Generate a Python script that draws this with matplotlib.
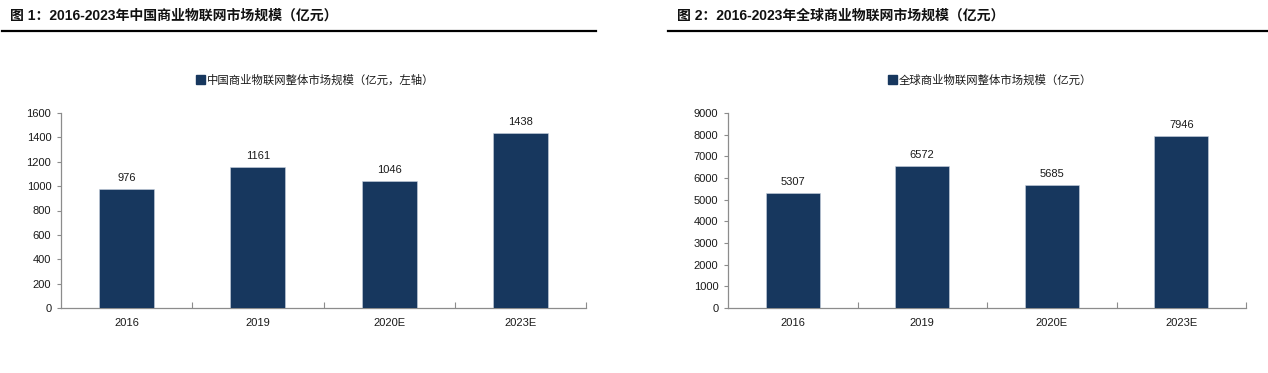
import matplotlib
matplotlib.use("Agg")
import matplotlib.pyplot as plt
from matplotlib.lines import Line2D
from matplotlib.patches import Patch

categories = ["2016", "2019", "2020E", "2023E"]
china_values = [976, 1161, 1046, 1438]
global_values = [5307, 6572, 5685, 7946]

title_left = "图 1：2016-2023年中国商业物联网市场规模（亿元）"
title_right = "图 2：2016-2023年全球商业物联网市场规模（亿元）"
legend_left = "中国商业物联网整体市场规模（亿元，左轴）"
legend_right = "全球商业物联网整体市场规模（亿元）"

BAR = "#17375E"
SPINE = "#8c8c8c"
TXT = "#1a1a1a"
LAT = ["Liberation Sans", "Noto Sans CJK SC", "DejaVu Sans"]
CJK = ["Noto Sans CJK SC", "DejaVu Sans"]

plt.rcParams["font.family"] = LAT

W, H = 1268, 373
fig = plt.figure(figsize=(W / 100, H / 100), dpi=100)


def px(x0, y0, w, h):
    return [x0 / W, 1 - (y0 + h) / H, w / W, h / H]


def panel(rect, values, ymax, ystep, legend_text, legend_xy):
    ax = fig.add_axes(rect)
    x = list(range(len(categories)))
    bars = ax.bar(x, values, width=0.42, color=BAR, edgecolor="#c9d3df", linewidth=0.4, zorder=3)
    ax.bar_label(bars, labels=[str(v) for v in values], padding=4, fontsize=8, color=TXT)
    ax.set_xlim(-0.5, len(categories) - 0.5)
    ax.set_ylim(0, ymax)
    ax.set_yticks(range(0, ymax + 1, ystep))
    ax.set_xticks(x)
    ax.set_xticklabels(categories)
    ax.set_xticks([i + 0.5 for i in range(len(categories))], minor=True)
    ax.tick_params(axis="x", which="major", length=0, pad=7, labelsize=8, labelcolor=TXT)
    ax.tick_params(axis="x", which="minor", direction="in", length=4, color=SPINE, width=0.8)
    ax.tick_params(axis="y", direction="out", length=3, color=SPINE, width=0.8, pad=4,
                   labelsize=8, labelcolor=TXT)
    for s in ("top", "right"):
        ax.spines[s].set_visible(False)
    for s in ("left", "bottom"):
        ax.spines[s].set_color(SPINE)
        ax.spines[s].set_linewidth(0.9)
    handle = Patch(facecolor=BAR, edgecolor=BAR)
    leg = fig.legend([handle], [legend_text], loc="center",
                     bbox_to_anchor=(legend_xy[0] / W, 1 - legend_xy[1] / H),
                     frameon=False, handlelength=0.75, handleheight=0.75, handletextpad=0.15,
                     prop={"family": CJK, "size": 8.2, "weight": "light"})
    for t in leg.get_texts():
        t.set_color(TXT)
    return ax


panel(px(61, 113, 525, 195), china_values, 1600, 200, legend_left, (315, 80))
panel(px(728, 113, 518, 195), global_values, 9000, 1000, legend_right, (990, 80))

fig.text(10 / W, 1 - 16 / H, title_left, fontsize=10, fontweight="bold",
         family=LAT, va="center", ha="left", color="#111111")
fig.text(677 / W, 1 - 16 / H, title_right, fontsize=10, fontweight="bold",
         family=LAT, va="center", ha="left", color="#111111")

fig.add_artist(Line2D([2 / W, 596 / W], [1 - 31 / H, 1 - 31 / H], color="black", linewidth=1.6))
fig.add_artist(Line2D([668 / W, 1268 / W], [1 - 31 / H, 1 - 31 / H], color="black", linewidth=1.6))

fig.savefig("out.png", dpi=100)
